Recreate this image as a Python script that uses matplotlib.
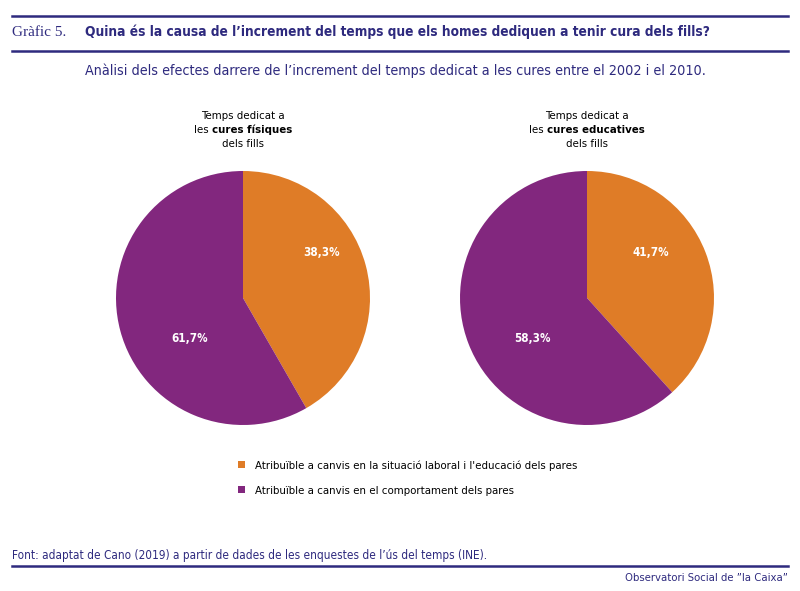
import matplotlib
matplotlib.use("Agg")
import matplotlib.pyplot as plt
from matplotlib.lines import Line2D

plt.rcParams['font.family'] = ['DejaVu Sans']
plt.rcParams['font.stretch'] = 'condensed'

# dades
categories = ["Atribuïble a canvis en la situació laboral i l'educació dels pares",
              "Atribuïble a canvis en el comportament dels pares"]
# percentatges escrits a les etiquetes
etiquetes_fisiques = [38.3, 61.7]
etiquetes_educatives = [41.7, 58.3]
# mida dels sectors tal com es veuen dibuixats al gràfic original
sectors_fisiques = [41.7, 58.3]
sectors_educatives = [38.3, 61.7]
pie_titles = [("les ", "cures físiques"), ("les ", "cures educatives")]

navy = "#2E2A7E"
colors = ["#DF7C27", "#82277E"]

fig = plt.figure(figsize=(8, 5.91), dpi=100)
W, H = 800, 591

def fx(x):
    return x / W

def fy(y):
    return 1 - y / H

# capçalera
fig.add_artist(Line2D([fx(12), fx(788)], [fy(16), fy(16)], color=navy, lw=1.8))
fig.add_artist(Line2D([fx(12), fx(788)], [fy(51), fy(51)], color=navy, lw=1.8))
fig.text(fx(12), fy(33), "Gràfic 5.", family=['Liberation Serif', 'DejaVu Serif'],
         fontstretch='normal', fontsize=11, color=navy, va='center')
fig.text(fx(85), fy(32), "Quina és la causa de l\u2019increment del temps que els homes dediquen a tenir cura dels fills?",
         fontsize=9.8, fontweight='bold', color=navy, va='center')
fig.text(fx(85), fy(71), "Anàlisi dels efectes darrere de l\u2019increment del temps dedicat a les cures entre el 2002 i el 2010.",
         fontsize=10.3, color=navy, va='center')

# pastissos
r = 127
centres = [243, 587]
sectors = [sectors_fisiques, sectors_educatives]
etiquetes = [etiquetes_fisiques, etiquetes_educatives]
pct_pos = [[(0.62, 0.36), (-0.42, -0.32)], [(0.50, 0.36), (-0.43, -0.32)]]
wedges_all = []
for i, cx in enumerate(centres):
    ax = fig.add_axes([fx(cx - r), fy(298 + r), 2 * r / W, 2 * r / H])
    wedges, _ = ax.pie(sectors[i], colors=colors, startangle=90, counterclock=False,
                       wedgeprops=dict(linewidth=0))
    wedges_all.append(wedges)
    for v, (px, py) in zip(etiquetes[i], pct_pos[i]):
        ax.text(px, py, ("%.1f%%" % v).replace('.', ','), color='white',
                fontweight='bold', fontsize=8.4, ha='center', va='center')
    ax.set_xlim(-1, 1)
    ax.set_ylim(-1, 1)
    ax.set_aspect('auto')

# títols dels pastissos
renderer = fig.canvas.get_renderer()
for cx, (normal, bold) in zip(centres, pie_titles):
    fig.text(fx(cx), fy(116), "Temps dedicat a", fontsize=8.2, ha='center', va='center')
    fig.text(fx(cx), fy(144), "dels fills", fontsize=8.2, ha='center', va='center')
    t1 = fig.text(0, 0, normal, fontsize=8.2, va='center')
    t2 = fig.text(0, 0, bold, fontsize=8.2, fontweight='bold', va='center')
    w1 = t1.get_window_extent(renderer).width
    w2 = t2.get_window_extent(renderer).width
    x0 = cx - (w1 + w2) / 2
    t1.set_position((fx(x0), fy(130)))
    t2.set_position((fx(x0 + w1), fy(130)))

# llegenda
fig.legend(wedges_all[0], categories, loc='upper left', bbox_to_anchor=(fx(228), fy(450)),
           frameon=False, fontsize=8.2, handlelength=0.6, handleheight=0.6,
           handletextpad=0.9, labelspacing=1.3)

# peu
fig.text(fx(12), fy(556), "Font: adaptat de Cano (2019) a partir de dades de les enquestes de l\u2019ús del temps (INE).",
         fontsize=8.5, color=navy, va='center')
fig.add_artist(Line2D([fx(12), fx(788)], [fy(566), fy(566)], color=navy, lw=1.8))
fig.text(fx(788), fy(578), "Observatori Social de \u201dla Caixa\u201d",
         fontsize=8.15, color=navy, va='center', ha='right')

plt.savefig("out.png", dpi=100)
